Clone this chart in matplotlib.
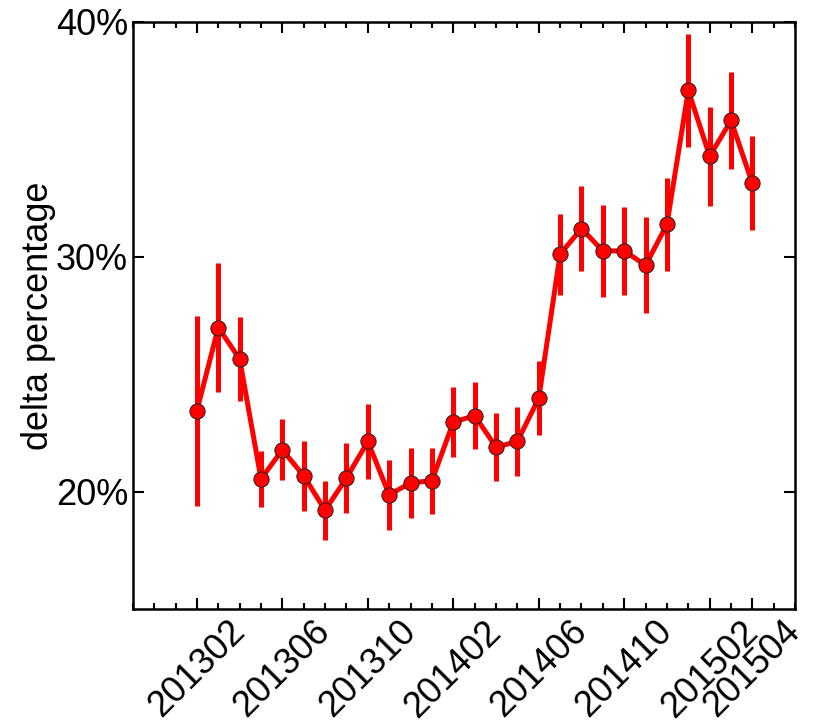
import numpy as np
import matplotlib
matplotlib.use("Agg")
from matplotlib import pyplot as plt
from matplotlib.ticker import MultipleLocator, FuncFormatter

months = ["201302", "201303", "201304", "201305", "201306", "201307", "201308",
          "201309", "201310", "201311", "201312", "201401", "201402", "201403",
          "201404", "201405", "201406", "201407", "201408", "201409", "201410",
          "201411", "201412", "201501", "201502", "201503", "201504"]
delta_pct = [23.45, 26.99, 25.65, 20.55, 21.78, 20.68, 19.21, 20.59, 22.14,
             19.87, 20.38, 20.47, 22.96, 23.24, 21.90, 22.14, 23.98, 30.11,
             31.20, 30.25, 30.25, 29.64, 31.38, 37.08, 34.28, 35.80, 33.12]
delta_err = [4.05, 2.75, 1.80, 1.20, 1.30, 1.50, 1.25, 1.50, 1.60, 1.48, 1.49,
             1.40, 1.50, 1.43, 1.45, 1.45, 1.57, 1.73, 1.80, 1.96, 1.87, 2.05,
             1.97, 2.40, 2.10, 2.05, 2.00]
tick_labels = ["201302", "201306", "201310", "201402", "201406", "201410", "201502", "201504"]

plt.rcParams["font.family"] = ["Liberation Sans", "DejaVu Sans"]

fig = plt.figure(figsize=(8.3, 7.27), dpi=100)
ax = fig.add_axes([0.160, 0.162, 0.798, 0.808])

x = np.arange(len(months))
ax.errorbar(x, delta_pct, yerr=delta_err, color="red", linewidth=3.6, elinewidth=3.6,
            capsize=0, marker="o", markersize=11, markerfacecolor="red",
            markeredgecolor="#222222", markeredgewidth=0.7)

ax.set_xlim(-3, 28)
ax.set_ylim(15, 40)
tick_pos = [months.index(m) for m in tick_labels]
ax.set_xticks(tick_pos)
ax.set_xticklabels(tick_labels, rotation=45, fontsize=26)
ax.xaxis.set_minor_locator(MultipleLocator(1))
ax.set_yticks([20, 30, 40])
ax.yaxis.set_major_formatter(FuncFormatter(lambda v, p: f"{v:.0f}%"))
ax.tick_params(axis="y", labelsize=26)
ax.tick_params(which="both", direction="in", top=True, right=True, width=1.5)
ax.tick_params(which="major", length=8)
ax.tick_params(which="minor", length=4)
for s in ax.spines.values():
    s.set_linewidth(1.8)
ax.set_ylabel("delta percentage", fontsize=26, labelpad=0)

fig.savefig("out.png", dpi=100)
